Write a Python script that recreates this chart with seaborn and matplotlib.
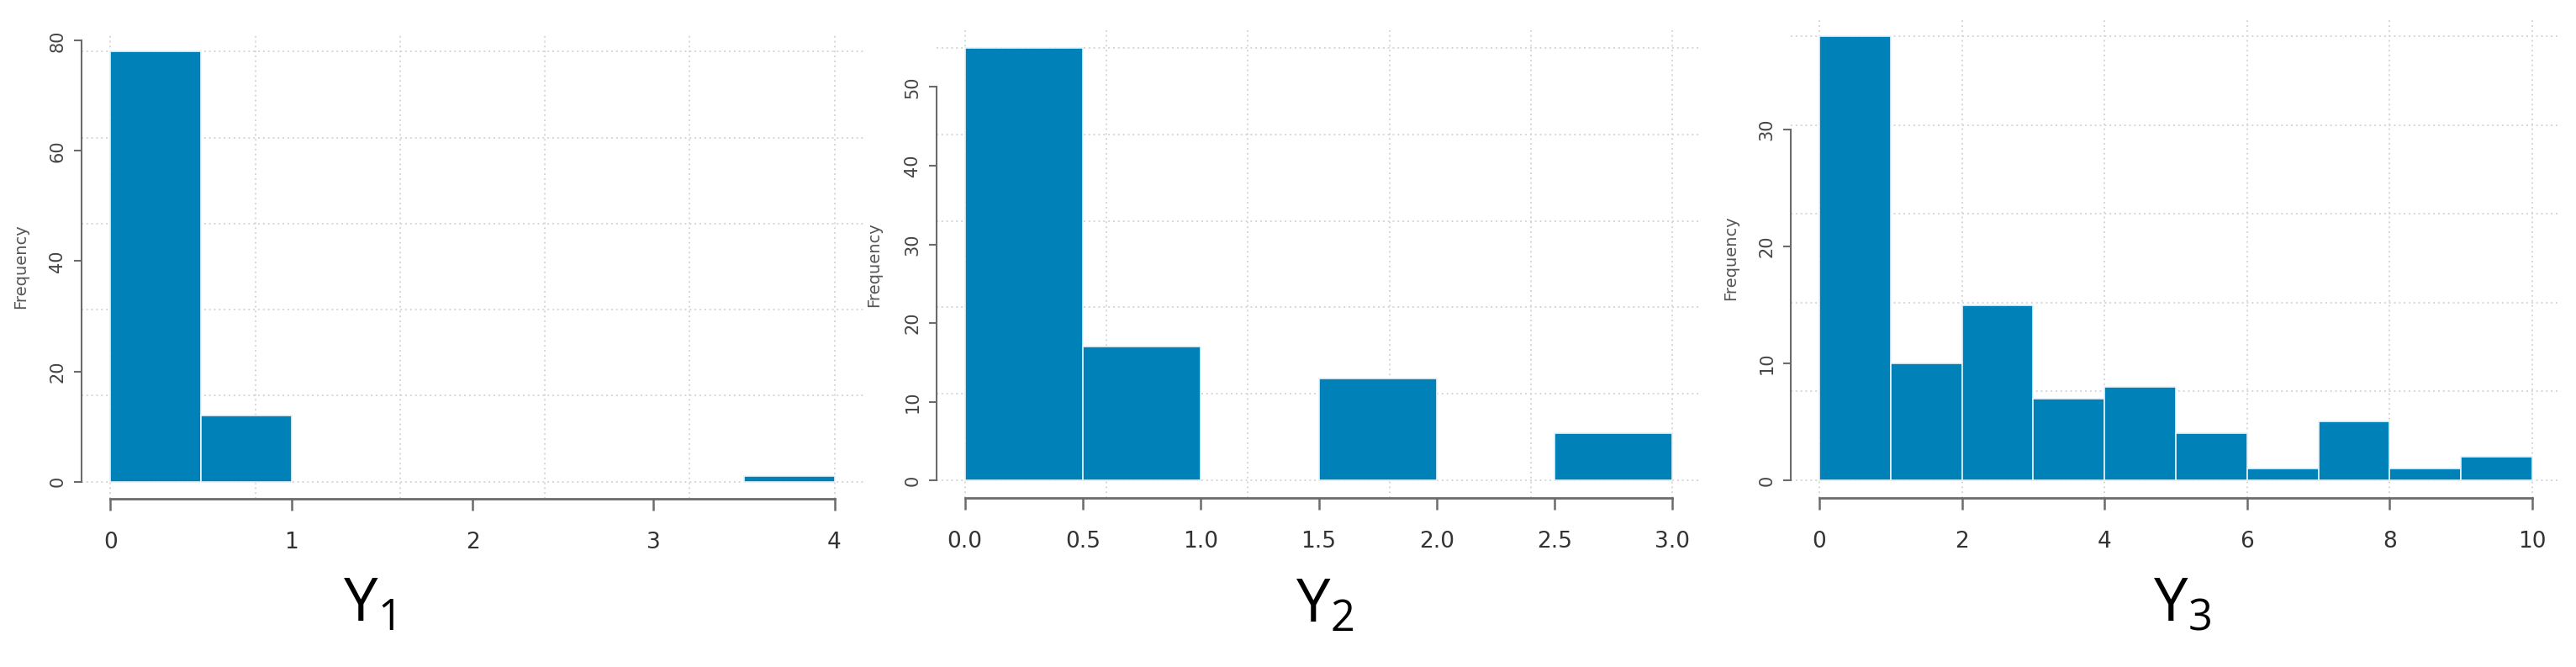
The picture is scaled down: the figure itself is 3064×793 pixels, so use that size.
import numpy as np
import pandas as pd
import matplotlib
matplotlib.use("Agg")
import matplotlib.pyplot as plt
import seaborn as sns

# bin edges and counts
y1_edges = [0, 0.5, 1, 1.5, 2, 2.5, 3, 3.5, 4]
y1_counts = [78, 12, 0, 0, 0, 0, 0, 1]
y2_edges = [0, 0.5, 1, 1.5, 2, 2.5, 3]
y2_counts = [55, 17, 0, 13, 0, 6]
y3_edges = [0, 1, 2, 3, 4, 5, 6, 7, 8, 9, 10]
y3_counts = [38, 10, 15, 7, 8, 4, 1, 5, 1, 2]

y1_xticks = [0, 1, 2, 3, 4]
y2_xticks = [0, 0.5, 1, 1.5, 2, 2.5, 3]
y3_xticks = [0, 2, 4, 6, 8, 10]
y1_xlabels = ["0", "1", "2", "3", "4"]
y2_xlabels = ["0.0", "0.5", "1.0", "1.5", "2.0", "2.5", "3.0"]
y3_xlabels = ["0", "2", "4", "6", "8", "10"]
y1_yticks = [0, 20, 40, 60, 80]
y2_yticks = [0, 10, 20, 30, 40, 50]
y3_yticks = [0, 10, 20, 30]

panel_names = [r"$\mathregular{Y_1}$", r"$\mathregular{Y_2}$", r"$\mathregular{Y_3}$"]

sns.set_style("white")
plt.rcParams["font.family"] = ["DejaVu Sans"]

W, H = 3064, 793
fig = plt.figure(figsize=(W / 100, H / 100), dpi=100)

# plot regions in pixels: left, right, top, bottom
boxes = [(97, 1027, 41, 593), (1114, 2023, 36, 592), (2130, 3046, 22, 592)]
ylab_pos = [(25, 317), (1040, 315), (2059, 307)]
name_pos = [(438, 739), (1576, 740), (2595, 738)]

panels = [
    (y1_edges, y1_counts, y1_xticks, y1_xlabels, y1_yticks),
    (y2_edges, y2_counts, y2_xticks, y2_xlabels, y2_yticks),
    (y3_edges, y3_counts, y3_xticks, y3_xlabels, y3_yticks),
]

bar_color = "#0081b7"
axis_color = "#6b6b6b"
grid_color = "#d6d6d6"

for i, (edges, counts, xt, xl, yt) in enumerate(panels):
    l, r, t, b = boxes[i]
    ax = fig.add_axes([l / W, 1 - b / H, (r - l) / W, (b - t) / H])
    mids = [(a + c) / 2 for a, c in zip(edges[:-1], edges[1:])]
    df = pd.DataFrame({"value": mids, "n": counts})
    sns.histplot(data=df, x="value", weights="n", bins=list(edges), stat="count",
                 color=bar_color, alpha=1, edgecolor="#e8f2f8", linewidth=1.2, ax=ax)
    for p in list(ax.patches):
        if p.get_height() == 0:
            p.remove()

    xr = edges[-1] - edges[0]
    ymax = max(counts)
    ax.set_xlim(edges[0] - 0.04 * xr, edges[-1] + 0.04 * xr)
    ax.set_ylim(-0.04 * ymax, ymax * 1.04)

    # R-style grid: 5 equal divisions of the data range
    for gx in np.linspace(edges[0], edges[-1], 6):
        ax.axvline(gx, color=grid_color, lw=1.4, ls=(0, (1, 2)), zorder=0)
    for gy in np.linspace(0, ymax, 6):
        ax.axhline(gy, color=grid_color, lw=1.4, ls=(0, (1, 2)), zorder=0)

    ax.set_xticks(xt)
    ax.set_xticklabels(xl, fontsize=19, color="#333333",
                       family=["Liberation Sans Narrow", "DejaVu Sans"])
    ax.set_yticks(yt)
    ax.set_yticklabels([str(v) for v in yt], rotation=90, va="center",
                       fontsize=15, color="#444444")
    ax.tick_params(axis="x", bottom=True, length=10, width=1.8, color=axis_color, pad=18)
    ax.tick_params(axis="y", left=True, length=6.5, width=1.5, color=axis_color, pad=7)

    for s in ["top", "right"]:
        ax.spines[s].set_visible(False)
    ax.spines["bottom"].set_bounds(xt[0], xt[-1])
    ax.spines["left"].set_bounds(yt[0], yt[-1])
    ax.spines["bottom"].set_color(axis_color)
    ax.spines["left"].set_color(axis_color)
    ax.spines["bottom"].set_linewidth(2)
    ax.spines["left"].set_linewidth(1.5)
    ax.set_xlabel("")
    ax.set_ylabel("")

    fx, fy = ylab_pos[i]
    fig.text(fx / W, 1 - fy / H, "Frequency", rotation=90, ha="center", va="center",
             fontsize=14, color="#555555")
    nx, ny = name_pos[i]
    fig.text(nx / W, 1 - ny / H, panel_names[i], ha="center", va="baseline",
             fontsize=52, color="black", family=["Open Sans", "DejaVu Sans"])

fig.savefig("out.png", dpi=100, facecolor="white")
